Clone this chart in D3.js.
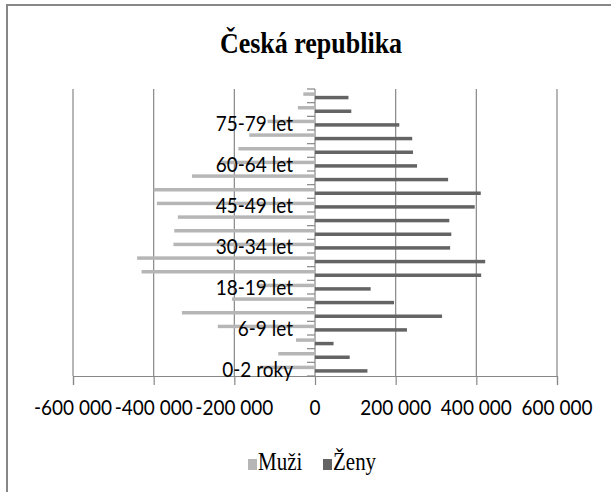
<!DOCTYPE html>
<html>
<head>
<meta charset="utf-8">
<script src="https://cdn.jsdelivr.net/npm/d3@7"></script>
<style>
    html, body { margin: 0; padding: 0; background: #fff; overflow: hidden; }
</style>
</head>
<body>
<div id="chart"></div>
<script>
"use strict";

// age groups, bottom to top
const categories = ["0-2 roky", "3-4 roky", "5 let", "6-9 let", "10-14 let", "15-17 let",
    "18-19 let", "20-24 let", "25-29 let", "30-34 let", "35-39 let", "40-44 let",
    "45-49 let", "50-54 let", "55-59 let", "60-64 let", "65-69 let", "70-74 let",
    "75-79 let", "80-84 let", "85 a více let"];

const muzi = [137000, 91000, 47000, 241000, 330000, 206000, 142000, 430000, 441000,
    351000, 349000, 340000, 392000, 400000, 305000, 235000, 190000, 163000, 118000,
    42500, 29000];

const zeny = [130000, 86000, 46000, 228000, 315000, 196000, 138000, 412000, 422000,
    335000, 338000, 333000, 396000, 411000, 330000, 253000, 243000, 241000, 209000,
    90000, 83000];

const xTicks = [-600000, -400000, -200000, 0, 200000, 400000, 600000];
const seriesNames = ["Muži", "Ženy"];
const title = "Česká republika";

(function () {
    const width = 611;
    const height = 492;
    const plot = { left: 73, right: 557, top: 89, bottom: 376 };
    const colors = { "Muži": "#b6b6b6", "Ženy": "#646464" };
    const gridColor = "#878787";
    const labelFont = "Lato, 'Liberation Sans', sans-serif";
    const serifFont = "'Liberation Serif', 'Times New Roman', serif";
    const stretch = 1.15; // the original text looks a little tall

    const svg = d3.select("#chart")
        .append("svg")
        .attr("width", width)
        .attr("height", height);

    // text placed at (tx, ty) and stretched vertically around its baseline
    function tallText(parent, tx, ty) {
        return parent.append("text")
            .attr("transform", `translate(${tx},${ty}) scale(1,${stretch})`);
    }

    // chart frame (runs off the right and bottom edge)
    svg.append("rect")
        .attr("x", 7).attr("y", 5)
        .attr("width", 700).attr("height", 600)
        .attr("fill", "#fff")
        .attr("stroke", gridColor)
        .attr("stroke-width", 2);

    tallText(svg, 311, 53)
        .attr("text-anchor", "middle")
        .attr("font-family", serifFont)
        .attr("font-weight", "bold")
        .attr("font-size", 26)
        .text(title);

    const x = d3.scaleLinear()
        .domain([xTicks[0], xTicks[xTicks.length - 1]])
        .range([plot.left, plot.right]);

    const y = d3.scaleBand()
        .domain(categories)
        .range([plot.bottom, plot.top])
        .paddingInner(0.49)
        .paddingOuter(0.245);

    const ySeries = d3.scaleBand()
        .domain(seriesNames)
        .range([0, y.bandwidth()]);

    // vertical grid lines
    svg.append("g")
        .selectAll("line")
        .data(xTicks)
        .enter()
        .append("line")
        .attr("x1", d => x(d)).attr("x2", d => x(d))
        .attr("y1", plot.top).attr("y2", plot.bottom)
        .attr("stroke", gridColor)
        .attr("stroke-width", 1.2);

    // bars
    const rows = categories.map((c, i) => ({ cat: c, muzi: muzi[i], zeny: zeny[i] }));

    svg.append("g")
        .selectAll("rect")
        .data(rows)
        .enter()
        .append("rect")
        .attr("x", d => x(-d.muzi))
        .attr("y", d => y(d.cat) + ySeries("Muži"))
        .attr("width", d => x(0) - x(-d.muzi))
        .attr("height", ySeries.bandwidth())
        .attr("fill", colors["Muži"]);

    svg.append("g")
        .selectAll("rect")
        .data(rows)
        .enter()
        .append("rect")
        .attr("x", x(0))
        .attr("y", d => y(d.cat) + ySeries("Ženy"))
        .attr("width", d => x(d.zeny) - x(0))
        .attr("height", ySeries.bandwidth())
        .attr("fill", colors["Ženy"]);

    // bottom value axis
    const fmt = d => d3.format(",")(d).replace(/,/g, " ").replace("−", "-");
    const xAxis = svg.append("g")
        .attr("transform", `translate(0,${plot.bottom})`)
        .call(d3.axisBottom(x)
            .tickValues(xTicks)
            .tickSize(9)
            .tickFormat(""));
    xAxis.select(".domain").attr("stroke", gridColor).attr("stroke-width", 1.2);
    xAxis.selectAll(".tick line").attr("stroke", gridColor).attr("stroke-width", 1.2);

    const tickLabels = svg.append("g");
    xTicks.forEach(t => {
        tallText(tickLabels, x(t), plot.bottom + 39)
            .attr("text-anchor", "middle")
            .attr("font-family", labelFont)
            .attr("font-size", 19)
            .attr("fill", "#000")
            .text(fmt(t));
    });

    // category axis at zero: boundary ticks and every third label
    const step = y.step();
    const boundaries = d3.range(categories.length + 1).map(i => plot.bottom - i * step);
    svg.append("g")
        .selectAll("line")
        .data(boundaries)
        .enter()
        .append("line")
        .attr("x1", x(0) - 8).attr("x2", x(0))
        .attr("y1", d => d).attr("y2", d => d)
        .attr("stroke", gridColor)
        .attr("stroke-width", 1.2);

    const catLabels = svg.append("g");
    categories.forEach((c, i) => {
        if (i % 3 !== 0) {
            return;
        }
        tallText(catLabels, x(0) - 22, y(c) + y.bandwidth() / 2 + 8)
            .attr("text-anchor", "end")
            .attr("font-family", labelFont)
            .attr("font-size", 19)
            .attr("fill", "#000")
            .text(c);
    });

    // legend
    const legend = svg.append("g")
        .attr("transform", "translate(248,470)");
    const offsets = [0, 75];
    seriesNames.forEach((name, i) => {
        const g = legend.append("g").attr("transform", `translate(${offsets[i]},0)`);
        g.append("rect")
            .attr("x", 0).attr("y", -11)
            .attr("width", 9).attr("height", 11)
            .attr("fill", colors[name]);
        tallText(g, 10, 0)
            .attr("font-family", serifFont)
            .attr("font-size", 21)
            .attr("fill", "#000")
            .text(name);
    });
})();
</script>
</body>
</html>
